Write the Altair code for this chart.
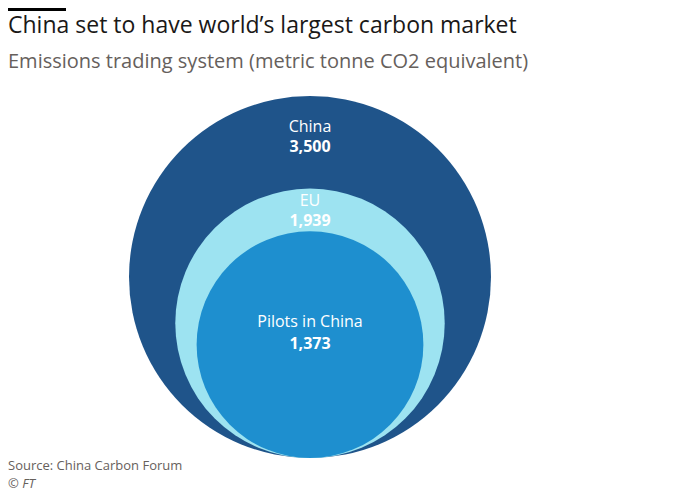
import math
import altair as alt
import pandas as pd

# ---- data ----
categories = ["China", "EU", "Pilots in China"]
values = [3500, 1939, 1373]
value_labels = ["3,500", "1,939", "1,373"]
colors = ["#1f548a", "#9de3f1", "#1e8fcf"]

title_text = "China set to have world\u2019s largest carbon market"
subtitle_text = "Emissions trading system (metric tonne CO2 equivalent)"
source_text = "Source: China Carbon Forum"
credit_text = "\u00a9 FT"

df = pd.DataFrame({
    "category": categories,
    "value": values,
    "label": value_labels,
    "idx": list(range(len(categories))),
})

FONT = "Open Sans"
W, H = 684, 484
R_MAX = 181
BOTTOM = 450
CX = 302

vmax = max(values)
y_scale = alt.Scale(domain=[0, math.sqrt(vmax)], range=[BOTTOM, BOTTOM - R_MAX])

base = alt.Chart(df).transform_calculate(rt="sqrt(datum.value)")

# Vega circle symbol: radius = sqrt(size) / 2
circles = base.mark_circle(opacity=1).encode(
    x=alt.value(CX),
    y=alt.Y("rt:Q", scale=y_scale, axis=None),
    size=alt.Size("value:Q", scale=alt.Scale(domain=[0, vmax], range=[0, (2 * R_MAX) ** 2]), legend=None),
    color=alt.Color("category:N", scale=alt.Scale(domain=categories, range=colors), legend=None),
    order=alt.Order("idx:Q"),
)

# label offsets relative to circle centre (style)
name_dy = {"China": -150, "EU": -122, "Pilots in China": -23}
value_dy = {"China": -130, "EU": -102, "Pilots in China": -1}

text_layers = []
for cat in categories:
    text_layers.append(
        base.transform_filter(alt.datum.category == cat).mark_text(
            font=FONT, fontSize=16, color="white", dy=name_dy[cat], baseline="middle"
        ).encode(x=alt.value(CX), y=alt.Y("rt:Q", scale=y_scale, axis=None), text="category:N")
    )
    text_layers.append(
        base.transform_filter(alt.datum.category == cat).mark_text(
            font=FONT, fontSize=16, fontWeight="bold", color="white", dy=value_dy[cat], baseline="middle"
        ).encode(x=alt.value(CX), y=alt.Y("rt:Q", scale=y_scale, axis=None), text="label:N")
    )

one = alt.Data(values=[{}])

bar = alt.Chart(one).mark_rule(color="black", strokeWidth=3).encode(
    x=alt.value(0), x2=alt.value(58), y=alt.value(1.5)
)
title = alt.Chart(one).mark_text(
    text=title_text, font=FONT, fontSize=23, color="#1a1817", align="left", baseline="middle"
).encode(x=alt.value(0), y=alt.value(18))
subtitle = alt.Chart(one).mark_text(
    text=subtitle_text, font=FONT, fontSize=20, color="#66605c", align="left", baseline="middle"
).encode(x=alt.value(0), y=alt.value(54))
source = alt.Chart(one).mark_text(
    text=source_text, font=FONT, fontSize=13, color="#66605c", align="left", baseline="middle"
).encode(x=alt.value(0), y=alt.value(458))
credit = alt.Chart(one).mark_text(
    text=credit_text, font=FONT, fontSize=13, fontStyle="italic", color="#66605c", align="left", baseline="middle"
).encode(x=alt.value(0), y=alt.value(476))

chart = alt.layer(circles, *text_layers, bar, title, subtitle, source, credit).properties(
    width=W, height=H, autosize=alt.AutoSizeParams(type="none"), padding=0, background="white"
).configure_view(stroke=None)

chart.save("out.html", embed_options={"renderer": "svg", "actions": False})
